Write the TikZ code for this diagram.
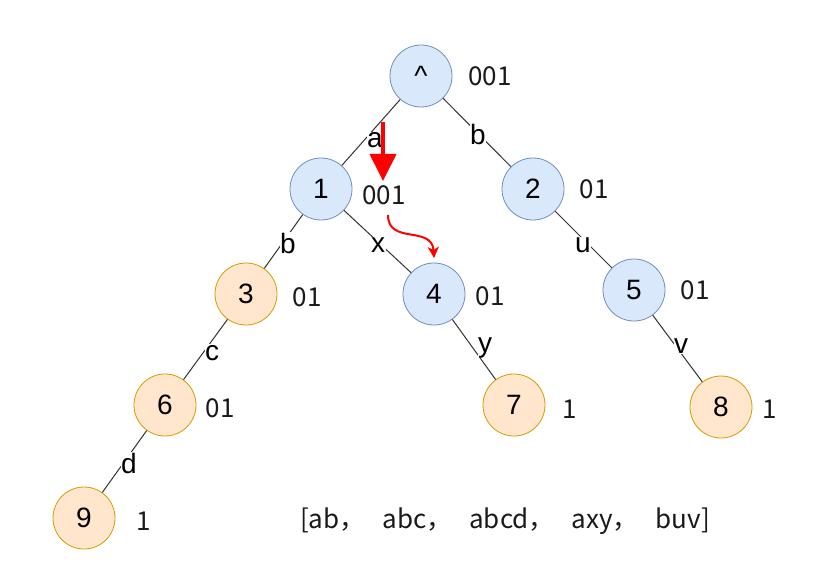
\documentclass[tikz,border=0pt]{standalone}
\usepackage{fontspec}
\setmainfont{Liberation Sans}
\newfontfamily\cjk{Noto Sans CJK SC}
\usetikzlibrary{arrows.meta}
\definecolor{bfill}{HTML}{DAE8FC}
\definecolor{bdraw}{HTML}{6C8EBF}
\definecolor{ofill}{HTML}{FFE6CC}
\definecolor{odraw}{HTML}{D79B00}
\definecolor{txt}{HTML}{1A1A1A}
\tikzset{
  nd/.style={circle, minimum size=62pt, inner sep=0pt, line width=0.8pt, font=\fontsize{28}{28}\selectfont},
  bn/.style={nd, fill=bfill, draw=bdraw},
  on/.style={nd, fill=ofill, draw=odraw},
  val/.style={font=\cjk\fontsize{26}{26}\selectfont, text=txt, inner sep=0pt},
  edge/.style={draw=black!80, line width=1pt},
  el/.style={fill=white, inner sep=0.5pt, anchor=base, font=\fontsize{28}{28}\selectfont}
}
\begin{document}
\begin{tikzpicture}[x=1pt,y=-1pt]
\useasboundingbox (0,0) rectangle (835,580);
\node[bn] (r) at (421,76) {\^{}};
\node[bn] (n1) at (321,189) {1};
\node[bn] (n2) at (533,189) {2};
\node[on] (n3) at (246,294) {3};
\node[bn] (n4) at (434,294) {4};
\node[bn] (n5) at (634,290) {5};
\node[on] (n6) at (165,405) {6};
\node[on] (n7) at (514,405) {7};
\node[on] (n8) at (721,407) {8};
\node[on] (n9) at (84,518) {9};

\path[edge] (r) -- (n1);
\path[edge] (r) -- (n2);
\path[edge] (n1) -- (n3);
\path[edge] (n1) -- (n4);
\path[edge] (n2) -- (n5);
\path[edge] (n3) -- (n6);
\path[edge] (n4) -- (n7);
\path[edge] (n5) -- (n8);
\path[edge] (n6) -- (n9);

\node[el] (la) at (375,148) {a};
\node[el] (lb1) at (478,145) {b};
\node[el] (lb2) at (288,253) {b};
\node[el] (lx) at (378,252) {x};
\node[el] (lu) at (583,252) {u};
\node[el] (lc) at (212,360) {c};
\node[el] (ly) at (485,352) {y};
\node[el] (lv) at (681,353) {v};
\node[el] (ld) at (129,473) {d};

\node[val] (v0) at (490,76) {001};
\node[val] (v1) at (384,195) {001};
\node[val] (v2) at (594,189) {01};
\node[val] (v3) at (307,297) {01};
\node[val] (v4) at (490,296) {01};
\node[val] (v5) at (695,290) {01};
\node[val] (v6) at (220,408) {01};
\node[val] (v7) at (570,409) {1};
\node[val] (v8) at (770,409) {1};
\node[val] (v9) at (144,521) {1};

\node[val] (list) at (505,521) {[ab，\hspace{0.65em}abc，\hspace{0.65em}abcd，\hspace{0.65em}axy，\hspace{0.65em}buv]};

\coordinate (a1) at (383,122);
\coordinate (a2) at (383,181);
\draw[red, line width=4pt, -{Triangle[length=27pt,width=26pt]}] (a1) -- (a2);
\coordinate (c1) at (388,215);
\coordinate (c2) at (434,258);
\draw[red, line width=2pt, -{Stealth[length=11pt,width=11pt,inset=3pt]}] (c1) .. controls (388,245) and (432,225) .. (c2);
\end{tikzpicture}
\end{document}
